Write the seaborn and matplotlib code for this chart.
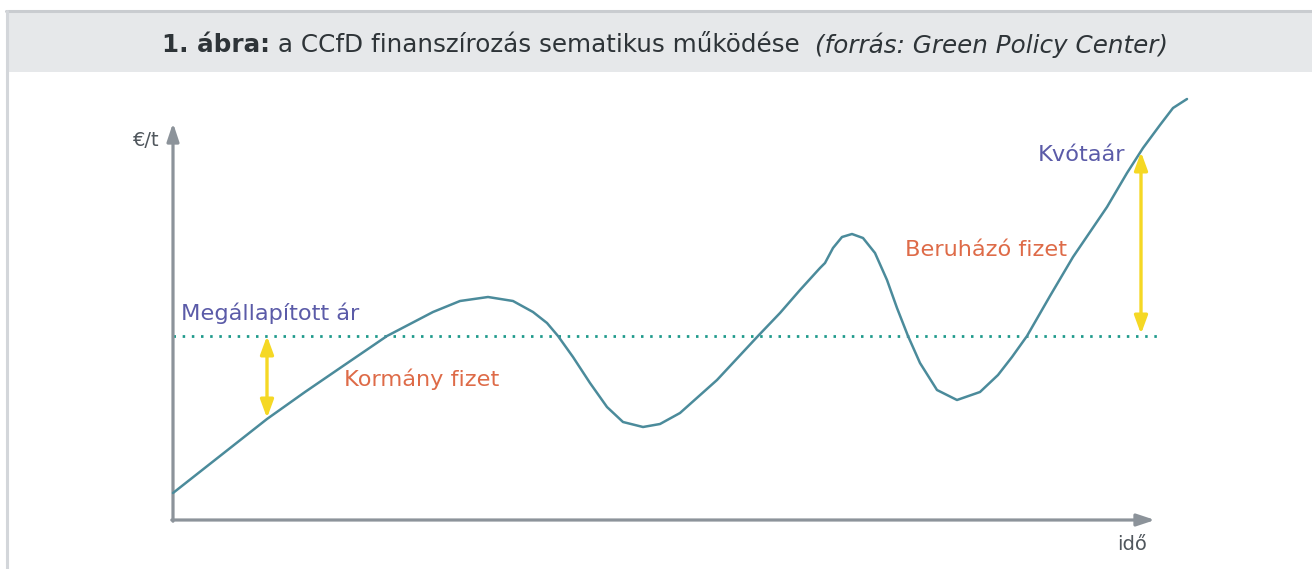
import matplotlib
matplotlib.use("Agg")
import matplotlib.pyplot as plt
import seaborn as sns
import pandas as pd
from matplotlib.patches import Rectangle

sns.set_theme(style="white")
plt.rcParams['font.family'] = ['DejaVu Sans']

# ---- data (t = time, p = price €/t) ----
t_vals = [0, 47, 94, 132, 170, 214, 237, 260, 287, 315, 340, 360, 374, 385, 400,
          417, 434, 450, 470, 487, 507, 544, 585, 607, 627, 647, 652, 660, 669,
          679, 690, 702, 714, 724, 735, 747, 764, 784, 807, 825, 839, 854, 877,
          900, 917, 934, 954, 970, 987, 1000, 1014]
p_vals = [27, 64, 101, 128, 154, 184, 196, 208, 219, 223, 219, 208, 197, 184, 163,
          137, 113, 98, 93, 96, 107, 140, 184, 207, 230, 252, 257, 272, 283,
          286, 282, 267, 240, 212, 184, 157, 130, 120, 128, 145, 163, 184, 224,
          263, 288, 313, 347, 372, 395, 412, 421]
strike_price = 184
strike_end = 990
gov_arrow = (94, 184, 102)     # t, top, bottom
inv_arrow = (968, 368, 186)

title_bold = "1. ábra:"
title_main = " a CCfD finanszírozás sematikus működése  "
title_src = "(forrás: Green Policy Center)"
lbl_strike = "Megállapított ár"
lbl_gov = "Kormány fizet"
lbl_inv = "Beruházó fizet"
lbl_quota = "Kvótaár"
lbl_y = "€/t"
lbl_x = "idő"

curve_c = "#4b8b9b"
dot_c = "#1f9a8c"
yellow = "#f5d824"
purple = "#5b5ba8"
orange = "#de6b48"
axis_c = "#8c939a"
text_c = "#50575d"

W, H = 1312, 569
fig = plt.figure(figsize=(W / 100, H / 100), dpi=100)
ax = fig.add_axes([0, 0, 1, 1])
ax.set_xlim(-173, W - 173)
ax.set_ylim(520 - H, 520)
ax.axis("off")

# frame / header (figure coordinates)
fig.patches.append(Rectangle((7 / W, 1 - 72 / H), 1 - 7 / W, 61 / H, transform=fig.transFigure,
                             facecolor="#e6e8ea", edgecolor="none", zorder=0))
fig.lines.append(plt.Line2D([5.5 / W, 1], [1 - 11 / H, 1 - 11 / H], transform=fig.transFigure,
                            color="#c9ccd0", lw=2.2))
fig.lines.append(plt.Line2D([7 / W, 7 / W], [0, 1 - 11 / H], transform=fig.transFigure,
                            color="#d3d6da", lw=2.2))

# title pieces
fig.canvas.draw()
r = fig.canvas.get_renderer()
pieces = [(title_bold, "bold", "normal", "#2e3438"),
          (title_main, "normal", "normal", "#2e3438"),
          (title_src, "normal", "italic", "#2e3438")]
fs_title = 17.7
objs = []
for s, w, st, c in pieces:
    objs.append(fig.text(0, 1 - 45 / H, s, fontsize=fs_title, fontweight=w, fontstyle=st,
                         color=c, va="center", ha="left"))
widths = [o.get_window_extent(r).width for o in objs]
x0 = 665 - sum(widths) / 2
for o, wd in zip(objs, widths):
    o.set_x(x0 / W)
    x0 += wd

# axes arrows
ax.annotate("", xy=(0, 397), xytext=(0, -1.2),
            arrowprops=dict(arrowstyle="-|>,head_length=0.9,head_width=0.3", color=axis_c, lw=2.3,
                            shrinkA=0, shrinkB=0))
ax.annotate("", xy=(982, 0), xytext=(-1.2, 0),
            arrowprops=dict(arrowstyle="-|>,head_length=0.9,head_width=0.3", color=axis_c, lw=2.3,
                            shrinkA=0, shrinkB=0))

# strike price dotted line
ax.plot([0, strike_end], [strike_price, strike_price], color=dot_c, lw=2.0,
        linestyle=(0, (0.9, 2.4)), dash_capstyle="butt", zorder=2)

# curve
df = pd.DataFrame({"t": t_vals, "p": p_vals})
sns.lineplot(data=df, x="t", y="p", ax=ax, color=curve_c, lw=1.8, sort=False, zorder=3,
             solid_joinstyle="round", solid_capstyle="round")
ax.set_xlabel("")
ax.set_ylabel("")

# yellow double arrows
for (tx, top, bot) in [gov_arrow, inv_arrow]:
    ax.annotate("", xy=(tx, top), xytext=(tx, bot),
                arrowprops=dict(arrowstyle="<|-|>,head_length=0.9,head_width=0.33", color=yellow,
                                lw=2.4, shrinkA=0, shrinkB=0), zorder=4)

# labels
fs = 16.2
ax.text(8, 207, lbl_strike, color=purple, fontsize=fs, va="center", ha="left")
ax.text(171, 141, lbl_gov, color=orange, fontsize=fs, va="center", ha="left")
ax.text(732, 270, lbl_inv, color=orange, fontsize=fs, va="center", ha="left")
ax.text(952, 365, lbl_quota, color=purple, fontsize=fs, va="center", ha="right")
ax.text(-13, 380, lbl_y, color=text_c, fontsize=14, va="center", ha="right")
ax.text(944, -24, lbl_x, color=text_c, fontsize=14, va="center", ha="left")

fig.savefig("out.png", dpi=100)
